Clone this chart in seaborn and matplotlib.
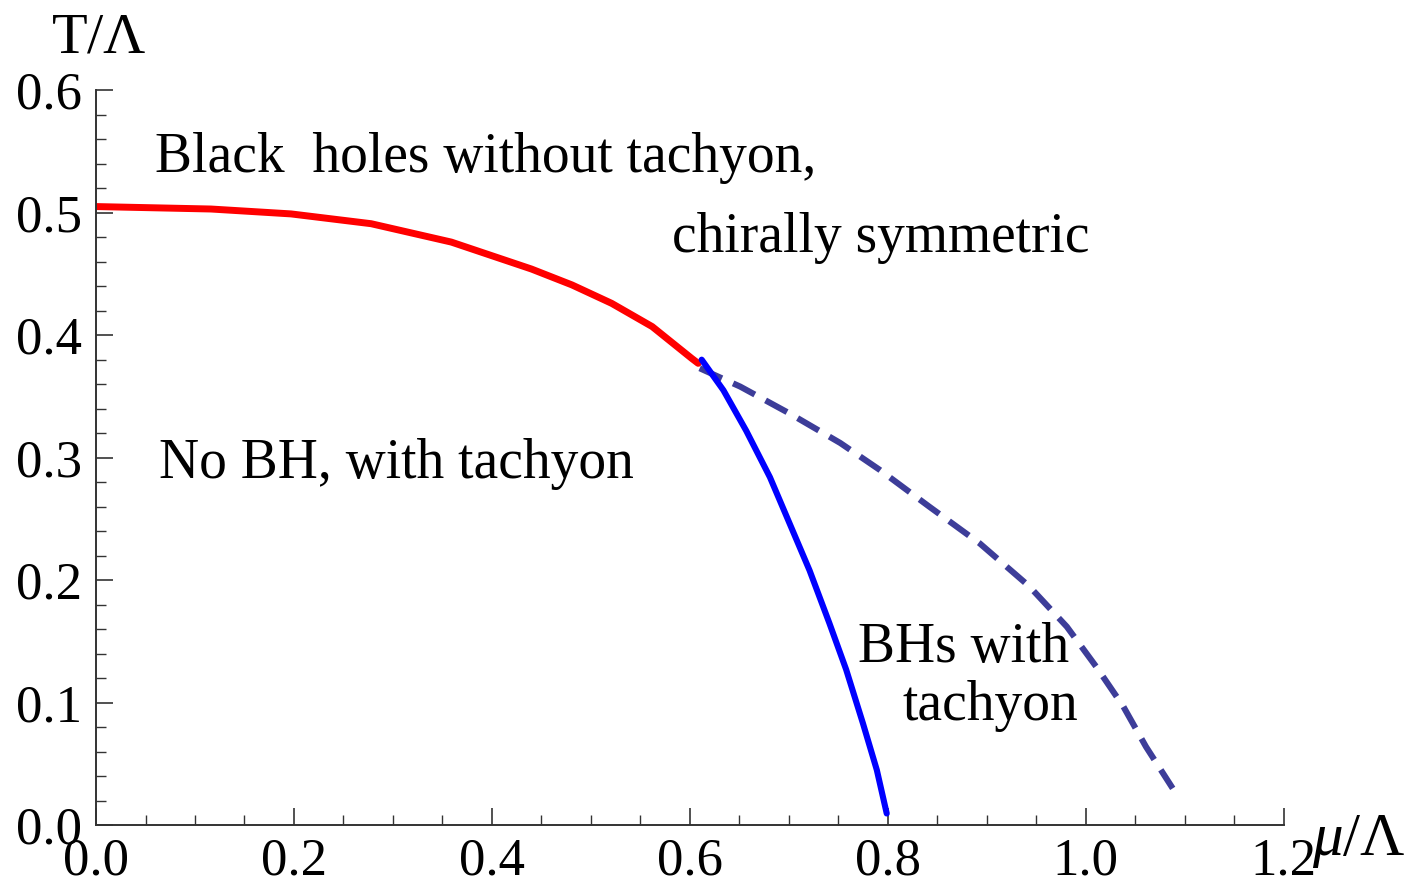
import matplotlib
matplotlib.use("Agg")
import matplotlib.pyplot as plt
import seaborn as sns
import pandas as pd
from matplotlib.ticker import MultipleLocator

sns.set_style("ticks")
plt.rcParams["font.family"] = ["Liberation Serif", "DejaVu Serif"]
plt.rcParams["mathtext.fontset"] = "custom"
plt.rcParams["mathtext.rm"] = "Liberation Serif"
plt.rcParams["mathtext.it"] = "Liberation Serif:italic"

# ── 曲線資料 (mu/Lambda, T/Lambda) ──────────────────────────────────
red_mu = [0.0, 0.116, 0.197, 0.278, 0.359, 0.440, 0.481, 0.521, 0.562, 0.602, 0.6085]
red_T = [0.505, 0.503, 0.499, 0.491, 0.476, 0.454, 0.441, 0.426, 0.407, 0.381, 0.377]

blue_mu = [0.612, 0.634, 0.657, 0.681, 0.701, 0.721, 0.741, 0.758, 0.775, 0.789, 0.799]
blue_T = [0.380, 0.355, 0.322, 0.284, 0.246, 0.208, 0.165, 0.127, 0.083, 0.045, 0.0095]

dash_mu = [0.610, 0.651, 0.701, 0.752, 0.792, 0.842, 0.893, 0.943, 0.981, 1.011, 1.038, 1.061, 1.088]
dash_T = [0.373, 0.358, 0.336, 0.312, 0.290, 0.260, 0.230, 0.195, 0.162, 0.129, 0.097, 0.064, 0.030]

labels = [
    ("Black  holes without tachyon,", 0.060, 0.533),
    ("chirally symmetric", 0.582, 0.468),
    ("No BH, with tachyon", 0.064, 0.283),
    ("BHs with", 0.770, 0.133),
    ("tachyon", 0.815, 0.086),
]

fig = plt.figure(figsize=(14.23, 8.93), dpi=100)
ax = fig.add_axes([0.0675, 0.076, 0.8345, 0.823])

red = pd.DataFrame({"mu": red_mu, "T": red_T})
blue = pd.DataFrame({"mu": blue_mu, "T": blue_T})
dash = pd.DataFrame({"mu": dash_mu, "T": dash_T})

sns.lineplot(data=red, x="mu", y="T", sort=False, estimator=None,
             color="#ff0000", linewidth=5, ax=ax)
sns.lineplot(data=dash, x="mu", y="T", sort=False, estimator=None,
             color="#3d3d99", linewidth=4.4, linestyle=(0, (4.0, 2.0)), ax=ax)
sns.lineplot(data=blue, x="mu", y="T", sort=False, estimator=None,
             color="#0000ff", linewidth=4.4, ax=ax)

for txt, x, y in labels:
    ax.text(x, y, txt, fontsize=40, ha="left", va="baseline", color="black")

ax.set_xlim(0, 1.2)
ax.set_ylim(0, 0.6)
ax.xaxis.set_major_locator(MultipleLocator(0.2))
ax.xaxis.set_minor_locator(MultipleLocator(0.05))
ax.yaxis.set_major_locator(MultipleLocator(0.1))
ax.yaxis.set_minor_locator(MultipleLocator(0.02))
ax.xaxis.set_major_formatter(lambda v, p: f"{v:.1f}")
ax.yaxis.set_major_formatter(lambda v, p: f"{v:.1f}")

ax.tick_params(which="major", direction="in", length=12, width=1.2, labelsize=38,
               color="#333333", labelcolor="black")
ax.tick_params(which="minor", direction="in", length=7, width=1.0, color="#333333")
ax.tick_params(axis="x", which="major", pad=9)
ax.tick_params(axis="y", which="major", pad=10)

sns.despine(ax=ax)
for s in ("left", "bottom"):
    ax.spines[s].set_linewidth(1.4)
    ax.spines[s].set_color("#333333")

ax.set_xlabel("")
ax.set_ylabel("")
ax.text(-0.038, 1.07, r"T/$\Lambda$", transform=ax.transAxes, fontsize=42,
        ha="left", va="center", color="black")
ax.text(1.024, -0.022, r"$\mu/\Lambda$", transform=ax.transAxes, fontsize=44,
        ha="left", va="center", color="black")

fig.savefig("out.png", dpi=100)
